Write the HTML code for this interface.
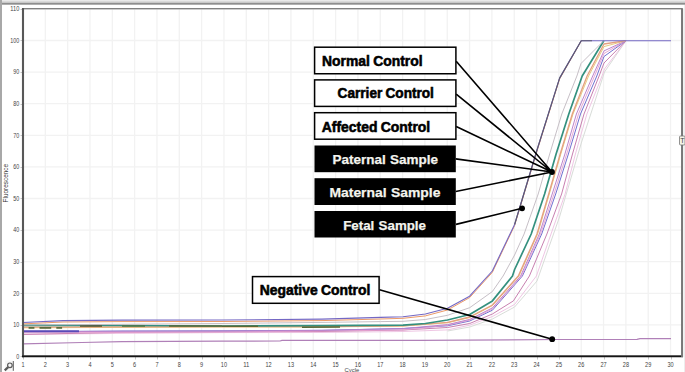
<!DOCTYPE html>
<html><head><meta charset="utf-8"><style>
html,body{margin:0;padding:0;background:#fff;}
body{width:685px;height:372px;overflow:hidden;}
svg{display:block;}
.ax text{font-family:"Liberation Sans",sans-serif;font-size:7px;fill:#444;}
.bl{font-family:"Liberation Sans",sans-serif;font-weight:bold;font-size:13.8px;fill:#000;stroke:#000;stroke-width:0.55px;word-spacing:-0.6px;}
.wh{font-family:"Liberation Sans",sans-serif;font-weight:bold;font-size:13.6px;fill:#f4f4ee;stroke:#f4f4ee;stroke-width:0.25px;word-spacing:0.6px;}
</style></head><body>
<svg width="685" height="372" viewBox="0 0 685 372">
<defs><linearGradient id="tg" gradientUnits="userSpaceOnUse" x1="0" y1="0" x2="0" y2="5"><stop offset="0" stop-color="#f0f0f0"/><stop offset="0.2" stop-color="#e2e2e2"/><stop offset="0.5" stop-color="#c8c8c8"/><stop offset="0.68" stop-color="#8e8e8e"/><stop offset="0.85" stop-color="#8e8e8e"/><stop offset="1" stop-color="#f4f4f4"/></linearGradient></defs>
<rect x="0" y="0" width="685" height="5" fill="url(#tg)"/>
<rect x="0" y="0" width="2" height="372" fill="#a8a8a8"/>
<path d="M45.31 9.5V355 M67.64 9.5V355 M89.97 9.5V355 M112.30 9.5V355 M134.63 9.5V355 M156.96 9.5V355 M179.29 9.5V355 M201.62 9.5V355 M223.95 9.5V355 M246.28 9.5V355 M268.61 9.5V355 M290.94 9.5V355 M313.27 9.5V355 M335.60 9.5V355 M357.93 9.5V355 M380.26 9.5V355 M402.59 9.5V355 M424.92 9.5V355 M447.25 9.5V355 M469.58 9.5V355 M491.91 9.5V355 M514.24 9.5V355 M536.57 9.5V355 M558.90 9.5V355 M581.23 9.5V355 M603.56 9.5V355 M625.89 9.5V355 M648.22 9.5V355 M670.55 9.5V355 M24 324.90H681 M24 293.30H681 M24 261.70H681 M24 230.10H681 M24 198.50H681 M24 166.90H681 M24 135.30H681 M24 103.70H681 M24 72.10H681 M24 40.50H681" stroke="#f2f2f2" stroke-width="1.3" fill="none"/>
<g class="ax"><text x="16.3" y="358.8" textLength="3.0" lengthAdjust="spacingAndGlyphs">0</text><text x="13.3" y="327.2" textLength="6.0" lengthAdjust="spacingAndGlyphs">10</text><text x="13.3" y="295.6" textLength="6.0" lengthAdjust="spacingAndGlyphs">20</text><text x="13.3" y="264.0" textLength="6.0" lengthAdjust="spacingAndGlyphs">30</text><text x="13.3" y="232.4" textLength="6.0" lengthAdjust="spacingAndGlyphs">40</text><text x="13.3" y="200.8" textLength="6.0" lengthAdjust="spacingAndGlyphs">50</text><text x="13.3" y="169.2" textLength="6.0" lengthAdjust="spacingAndGlyphs">60</text><text x="13.3" y="137.6" textLength="6.0" lengthAdjust="spacingAndGlyphs">70</text><text x="13.3" y="106.0" textLength="6.0" lengthAdjust="spacingAndGlyphs">80</text><text x="13.3" y="74.4" textLength="6.0" lengthAdjust="spacingAndGlyphs">90</text><text x="10.3" y="42.8" textLength="9.0" lengthAdjust="spacingAndGlyphs">100</text><text x="10.3" y="11.2" textLength="9.0" lengthAdjust="spacingAndGlyphs">110</text><text x="21.4" y="366.8" textLength="3.1" lengthAdjust="spacingAndGlyphs">1</text><text x="43.8" y="366.8" textLength="3.1" lengthAdjust="spacingAndGlyphs">2</text><text x="66.1" y="366.8" textLength="3.1" lengthAdjust="spacingAndGlyphs">3</text><text x="88.4" y="366.8" textLength="3.1" lengthAdjust="spacingAndGlyphs">4</text><text x="110.8" y="366.8" textLength="3.1" lengthAdjust="spacingAndGlyphs">5</text><text x="133.1" y="366.8" textLength="3.1" lengthAdjust="spacingAndGlyphs">6</text><text x="155.4" y="366.8" textLength="3.1" lengthAdjust="spacingAndGlyphs">7</text><text x="177.7" y="366.8" textLength="3.1" lengthAdjust="spacingAndGlyphs">8</text><text x="200.1" y="366.8" textLength="3.1" lengthAdjust="spacingAndGlyphs">9</text><text x="220.8" y="366.8" textLength="6.2" lengthAdjust="spacingAndGlyphs">10</text><text x="243.2" y="366.8" textLength="6.2" lengthAdjust="spacingAndGlyphs">11</text><text x="265.5" y="366.8" textLength="6.2" lengthAdjust="spacingAndGlyphs">12</text><text x="287.8" y="366.8" textLength="6.2" lengthAdjust="spacingAndGlyphs">13</text><text x="310.2" y="366.8" textLength="6.2" lengthAdjust="spacingAndGlyphs">14</text><text x="332.5" y="366.8" textLength="6.2" lengthAdjust="spacingAndGlyphs">15</text><text x="354.8" y="366.8" textLength="6.2" lengthAdjust="spacingAndGlyphs">16</text><text x="377.2" y="366.8" textLength="6.2" lengthAdjust="spacingAndGlyphs">17</text><text x="399.5" y="366.8" textLength="6.2" lengthAdjust="spacingAndGlyphs">18</text><text x="421.8" y="366.8" textLength="6.2" lengthAdjust="spacingAndGlyphs">19</text><text x="444.1" y="366.8" textLength="6.2" lengthAdjust="spacingAndGlyphs">20</text><text x="466.5" y="366.8" textLength="6.2" lengthAdjust="spacingAndGlyphs">21</text><text x="488.8" y="366.8" textLength="6.2" lengthAdjust="spacingAndGlyphs">22</text><text x="511.1" y="366.8" textLength="6.2" lengthAdjust="spacingAndGlyphs">23</text><text x="533.5" y="366.8" textLength="6.2" lengthAdjust="spacingAndGlyphs">24</text><text x="555.8" y="366.8" textLength="6.2" lengthAdjust="spacingAndGlyphs">25</text><text x="578.1" y="366.8" textLength="6.2" lengthAdjust="spacingAndGlyphs">26</text><text x="600.5" y="366.8" textLength="6.2" lengthAdjust="spacingAndGlyphs">27</text><text x="622.8" y="366.8" textLength="6.2" lengthAdjust="spacingAndGlyphs">28</text><text x="645.1" y="366.8" textLength="6.2" lengthAdjust="spacingAndGlyphs">29</text><text x="667.4" y="366.8" textLength="6.2" lengthAdjust="spacingAndGlyphs">30</text></g>
<path d="M20.5 356.5H23 M20.5 325.5H23 M20.5 293.5H23 M20.5 262.5H23 M20.5 230.5H23 M20.5 198.5H23 M20.5 167.5H23 M20.5 135.5H23 M20.5 104.5H23 M20.5 72.5H23 M20.5 40.5H23 M20.5 9.5H23 M23.5 357V359.5 M45.5 357V359.5 M68.5 357V359.5 M90.5 357V359.5 M112.5 357V359.5 M135.5 357V359.5 M157.5 357V359.5 M179.5 357V359.5 M202.5 357V359.5 M224.5 357V359.5 M246.5 357V359.5 M269.5 357V359.5 M291.5 357V359.5 M313.5 357V359.5 M336.5 357V359.5 M358.5 357V359.5 M380.5 357V359.5 M403.5 357V359.5 M425.5 357V359.5 M447.5 357V359.5 M470.5 357V359.5 M492.5 357V359.5 M514.5 357V359.5 M537.5 357V359.5 M559.5 357V359.5 M581.5 357V359.5 M604.5 357V359.5 M626.5 357V359.5 M648.5 357V359.5 M671.5 357V359.5" stroke="#c4c4c4" stroke-width="1" fill="none"/>
<text x="7.8" y="183.2" transform="rotate(-90 7.8 183.2)" text-anchor="middle" style="font-family:'Liberation Sans',sans-serif;font-size:6.4px;fill:#333">Fluorescence</text>
<text x="351.9" y="372.4" text-anchor="middle" style="font-family:'Liberation Sans',sans-serif;font-size:5.9px;fill:#444">Cycle</text>
<path d="M23.0 343.9 L82.0 342.5 L122.0 341.7 L222.0 341.2 L280.0 341.0 L282.0 340.4 L420.0 340.3 L559.0 339.5 L637.0 339.4 L640.0 338.6 L671.0 338.6" stroke="#b080b8" stroke-width="1.2" fill="none" stroke-linejoin="round"/><path d="M447.5 331.0 L469.7 327.0 L492.4 319.0 L514.6 307.0 L537.0 281.0 L559.5 217.0 L581.6 142.0 L604.5 72.0 L626.0 40.7" stroke="#d8dcd8" stroke-width="1.0" fill="none" stroke-linejoin="round"/><path d="M23.0 334.4 L122.0 333.4 L222.0 332.6 L322.0 332.5 L403.0 331.5 L447.5 329.9 L469.7 325.2 L492.4 316.5 L514.6 304.4 L536.4 276.0 L551.0 234.0 L565.1 194.0 L575.4 154.0 L586.9 114.0 L602.0 76.0 L604.5 69.0 L626.0 40.7" stroke="#ecc0e0" stroke-width="0.9" fill="none" stroke-linejoin="round"/><path d="M23.0 334.4 L122.0 332.4 L222.0 331.8 L322.0 331.5 L403.0 330.0 L447.5 327.5 L469.7 323.5 L492.4 314.0 L513.4 300.9 L529.4 276.0 L546.9 234.0 L561.6 194.0 L572.5 154.0 L584.0 114.0 L599.1 76.0 L604.0 63.0 L626.0 40.7" stroke="#c880b0" stroke-width="1.0" fill="none" stroke-linejoin="round"/><path d="M23.0 331.4 L79.0 331.3 L122.0 331.0 L222.0 330.8 L322.0 330.3 L403.0 328.5 L447.5 325.8 L469.7 321.0 L492.4 310.2 L522.4 276.0 L541.7 234.0 L555.7 194.0 L568.4 154.0 L580.5 114.0 L596.8 76.0 L604.0 56.5 L626.0 40.7" stroke="#7070d0" stroke-width="1.0" fill="none" stroke-linejoin="round"/><path d="M23.0 332.8 L222.0 332.0 L403.0 330.0 L447.5 325.2 L469.7 320.2 L492.4 309.0 L521.5 276.0 L540.5 234.0 L554.0 194.0 L566.7 154.0 L578.5 114.0 L594.5 76.0 L604.0 53.5 L626.0 40.7" stroke="#e4a0d0" stroke-width="0.9" fill="none" stroke-linejoin="round"/><path d="M23.0 331.8 L122.0 331.3 L222.0 331.0 L322.0 330.4 L403.0 328.6 L447.5 324.6 L469.7 319.4 L492.4 307.9 L520.6 276.0 L539.3 234.0 L552.2 194.0 L564.9 154.0 L576.4 114.0 L592.7 76.0 L604.0 50.9 L626.0 40.7" stroke="#bc84cc" stroke-width="1.0" fill="none" stroke-linejoin="round"/><path d="M23.0 327.8 L222.0 327.0 L322.0 327.0 L403.0 326.0 L447.5 322.8 L469.7 317.5 L492.4 305.6 L519.0 276.0 L537.6 234.0 L549.3 194.0 L560.8 154.0 L573.0 114.0 L588.6 76.0 L604.0 46.6 L626.0 40.7" stroke="#e8cc80" stroke-width="1.0" fill="none" stroke-linejoin="round"/><path d="M23.0 327.2 L122.0 326.8 L222.0 326.6 L322.0 326.5 L403.0 325.8 L447.5 322.3 L469.7 317.0 L492.4 305.0 L518.3 276.0 L537.0 234.0 L548.7 194.0 L560.2 154.0 L572.3 114.0 L587.1 76.0 L604.0 44.0 L626.0 40.7" stroke="#e4a080" stroke-width="1.3" fill="none" stroke-linejoin="round"/><path d="M23.0 325.4 L122.0 325.5 L222.0 326.0 L322.0 325.7 L403.0 325.2 L425.4 323.5 L447.5 320.0 L469.7 314.5 L492.4 300.9 L512.5 276.0 L514.6 269.5 L531.2 234.0 L544.6 194.0 L556.1 154.0 L568.8 114.0 L582.2 76.0 L603.8 40.7" stroke="#34907e" stroke-width="1.7" fill="none" stroke-linejoin="round"/><path d="M28.6 327.9 L34.4 327.9" stroke="#586838" stroke-width="1.7" fill="none" stroke-linejoin="round"/><path d="M39.5 327.9 L51.2 327.9" stroke="#586838" stroke-width="1.7" fill="none" stroke-linejoin="round"/><path d="M56.3 327.9 L62.1 327.9" stroke="#586838" stroke-width="1.7" fill="none" stroke-linejoin="round"/><path d="M23.0 331.3 L79.0 331.3" stroke="#5a4ab8" stroke-width="2.0" fill="none" stroke-linejoin="round"/><path d="M80.0 326.0 L102.0 326.0" stroke="#5a5a38" stroke-width="1.6" fill="none" stroke-linejoin="round"/><path d="M122.0 325.9 L145.0 325.9" stroke="#4a7a50" stroke-width="1.8" fill="none" stroke-linejoin="round"/><path d="M169.0 326.0 L222.0 326.0" stroke="#586838" stroke-width="1.6" fill="none" stroke-linejoin="round"/><path d="M222.0 326.3 L258.0 326.3" stroke="#586838" stroke-width="1.5" fill="none" stroke-linejoin="round"/><path d="M302.0 327.3 L340.0 327.0" stroke="#586838" stroke-width="1.5" fill="none" stroke-linejoin="round"/><path d="M23.0 325.0 L122.0 324.3 L222.0 323.5 L322.0 322.4 L380.6 321.6 L403.0 321.3 L425.4 319.5 L447.5 315.3 L469.7 307.7 L492.4 291.5 L503.1 276.0 L514.6 255.0 L524.1 234.0 L538.2 194.0 L549.7 154.0 L561.8 114.0 L576.9 76.0 L581.0 63.5 L603.8 40.7" stroke="#c0b8c0" stroke-width="0.9" fill="none" stroke-linejoin="round"/><path d="M23.0 323.9 L63.0 322.0 L122.0 321.6 L222.0 321.5 L322.0 320.6 L380.6 319.0 L403.0 318.3 L425.4 315.9 L447.5 310.0 L469.6 297.6 L492.3 272.4 L514.6 225.5 L537.0 151.0 L559.6 79.0 L581.2 41.0" stroke="#ec9a68" stroke-width="1.0" fill="none" stroke-linejoin="round"/><path d="M23.0 322.5 L63.0 320.6 L122.0 320.1 L222.0 320.0 L322.0 319.1 L380.6 317.4 L403.0 316.7 L425.4 314.0 L447.5 308.3 L469.6 296.2 L492.3 271.0 L514.6 224.5 L537.0 150.0 L559.6 78.1 L581.2 40.7 L671.0 40.7" stroke="#7468c4" stroke-width="1.1" fill="none" stroke-linejoin="round"/><path d="M514.6 224.5 L537.0 150.0 L559.6 78.1 L581.2 40.7 L592.0 40.7" stroke="#5c5a70" stroke-width="1.1" fill="none" stroke-linejoin="round"/>
<rect x="23" y="8.7" width="659" height="347.3" fill="none" stroke="#808080" stroke-width="1.4"/>
<path d="M23 8V357.2" stroke="#585858" stroke-width="2.1" fill="none"/>
<path d="M22 356.3H683" stroke="#151515" stroke-width="1.8" fill="none"/>
<path d="M682.1 8.5V357" stroke="#787878" stroke-width="2" fill="none"/><path d="M684.6 5V372" stroke="#e6e6e6" stroke-width="0.8" fill="none"/>
<rect x="679.5" y="136" width="5.5" height="9" rx="1" fill="#f4f4e8" stroke="#777" stroke-width="0.8"/>
<text x="682.5" y="143" text-anchor="middle" style="font-family:'Liberation Sans',sans-serif;font-size:7px;fill:#444">T</text>
<path d="M456.2 61.2L552 172 M456.2 94.1L552 172 M456.2 126.5L552 172 M455.7 158.9L552 172 M455.7 191.5L552 172 M456 224.4L522.1 208.3 M379.5 289.8L552.2 339.2" stroke="#000" stroke-width="1.6" fill="none"/>
<circle cx="552" cy="172" r="2.9" fill="#000"/><circle cx="522.1" cy="208.3" r="2.9" fill="#000"/><circle cx="552.2" cy="339.2" r="2.9" fill="#000"/>
<rect x="314.6" y="47.2" width="141.3" height="26.55" fill="#fff" stroke="#000" stroke-width="1.5"/><text x="322.1" y="65.6" textLength="100.4" lengthAdjust="spacingAndGlyphs" class="bl">Normal Control</text><rect x="314.6" y="79.9" width="141.3" height="26.5" fill="#fff" stroke="#000" stroke-width="1.5"/><text x="337.6" y="98.4" textLength="96.3" lengthAdjust="spacingAndGlyphs" class="bl">Carrier Control</text><rect x="314.6" y="112.7" width="141.3" height="26.5" fill="#fff" stroke="#000" stroke-width="1.5"/><text x="321.7" y="131.6" textLength="108.5" lengthAdjust="spacingAndGlyphs" class="bl">Affected Control</text><rect x="314.5" y="145.5" width="141.3" height="26.7" fill="#000"/><text x="332.4" y="163.9" textLength="105.6" lengthAdjust="spacingAndGlyphs" class="wh">Paternal Sample</text><rect x="314.5" y="178.2" width="141.3" height="26.8" fill="#000"/><text x="329.5" y="197" textLength="110.9" lengthAdjust="spacingAndGlyphs" class="wh">Maternal Sample</text><rect x="314.5" y="211.0" width="141.3" height="26.5" fill="#000"/><text x="343.2" y="230.1" textLength="82.8" lengthAdjust="spacingAndGlyphs" class="wh">Fetal Sample</text><rect x="252.5" y="276.6" width="126.6" height="26.7" fill="#fff" stroke="#000" stroke-width="1.5"/><text x="259.7" y="295.4" textLength="110.6" lengthAdjust="spacingAndGlyphs" class="bl">Negative Control</text>
<rect x="5" y="360.5" width="8" height="11" fill="#f6f6f6"/><g stroke="#5a5a5a" fill="none" stroke-width="1.2"><circle cx="9.9" cy="365.3" r="2.3"/><path d="M8.2 367.1L4.7 370.4" stroke-width="2.2"/><path d="M13.3 361V370.8" stroke-width="1"/></g>
</svg>
</body></html>
